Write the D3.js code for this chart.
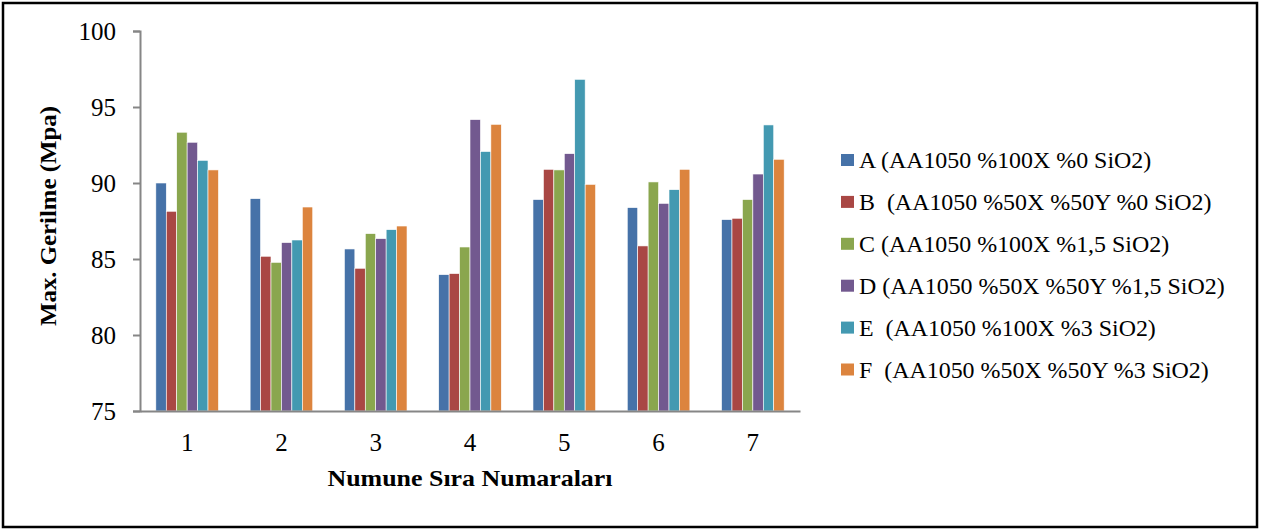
<!DOCTYPE html>
<html>
<head>
<meta charset="utf-8">
<script src="https://cdn.jsdelivr.net/npm/d3@7"></script>
<style>
  html, body { margin: 0; padding: 0; background: #fff; }
  svg { display: block; }
  svg text { font-family: "Liberation Serif", "Times New Roman", serif !important; fill: #000; }
</style>
</head>
<body>
<script>
// ---- data ----
const categories = ["1", "2", "3", "4", "5", "6", "7"];
const seriesNames = [
  "A (AA1050 %100X %0 SiO2)",
  "B  (AA1050 %50X %50Y %0 SiO2)",
  "C (AA1050 %100X %1,5 SiO2)",
  "D (AA1050 %50X %50Y %1,5 SiO2)",
  "E  (AA1050 %100X %3 SiO2)",
  "F  (AA1050 %50X %50Y %3 SiO2)"
];
const seriesA = [90.0, 88.97, 85.66, 83.97, 88.91, 88.38, 87.59];
const seriesB = [88.14, 85.18, 84.39, 84.04, 90.90, 85.86, 87.68];
const seriesC = [93.34, 84.78, 86.67, 85.79, 90.86, 90.07, 88.91];
const seriesD = [92.68, 86.08, 86.34, 94.17, 91.93, 88.66, 90.59];
const seriesE = [91.49, 86.25, 86.93, 92.07, 96.82, 89.56, 93.82];
const seriesF = [90.86, 88.42, 87.17, 93.86, 89.91, 90.90, 91.56];
const yTicks = [75, 80, 85, 90, 95, 100];
const colors = ["#4672A8", "#A94744", "#8AA64E", "#72598F", "#4399B1", "#DC843E"];
const yTitle = "Max. Gerilme (Mpa)";
const xTitle = "Numune Sıra Numaraları";

const allSeries = [seriesA, seriesB, seriesC, seriesD, seriesE, seriesF];

const W = 1264, H = 532;
const plot = { left: 140, right: 800, top: 31, bottom: 411 };
const serif = '"Liberation Serif", "Times New Roman", serif';

const svg = d3.select("body").append("svg").attr("width", W).attr("height", H);

// frame
svg.append("rect").attr("x", 3).attr("y", 3).attr("width", 1254).attr("height", 524)
  .attr("fill", "#fff").attr("stroke", "#000").attr("stroke-width", 2.5);

const x0 = d3.scaleBand().domain(categories).range([plot.left, plot.right])
  .paddingInner(0.336).paddingOuter(0.168);
const x1 = d3.scaleBand().domain(d3.range(seriesNames.length)).range([0, x0.bandwidth()]);
const y = d3.scaleLinear().domain([75, 100]).range([plot.bottom, plot.top]);

// bars
const groups = svg.append("g").selectAll("g").data(categories).join("g")
  .attr("transform", d => `translate(${x0(d)},0)`);
groups.selectAll("rect")
  .data((d, i) => allSeries.map((s, k) => ({ k, v: s[i] })))
  .join("rect")
  .attr("x", d => x1(d.k))
  .attr("width", x1.bandwidth())
  .attr("y", d => y(d.v))
  .attr("height", d => y(75) - y(d.v))
  .attr("fill", d => colors[d.k])
  .attr("stroke", "#fff").attr("stroke-width", 0.6);

// y axis
const yAxis = svg.append("g").attr("transform", `translate(${plot.left},0)`)
  .call(d3.axisLeft(y).tickValues(yTicks).tickSize(7).tickPadding(17).tickFormat(d3.format("d")));
yAxis.attr("font-family", serif);
yAxis.select(".domain").attr("stroke", "#868686").attr("stroke-width", 2);
yAxis.selectAll(".tick line").attr("stroke", "#868686").attr("stroke-width", 2);
yAxis.selectAll(".tick text").attr("font-size", 25).style("font-family", serif).attr("fill", "#000")
  .attr("dy", "0.34em");

// x axis
const xAxis = svg.append("g").attr("transform", `translate(0,${plot.bottom})`)
  .call(d3.axisBottom(x0).tickSize(0).tickPadding(22));
xAxis.attr("font-family", serif);
xAxis.select(".domain").attr("stroke", "#868686").attr("stroke-width", 2);
xAxis.selectAll(".tick text").attr("font-size", 25).style("font-family", serif).attr("fill", "#000");

// titles
svg.append("text").attr("transform", "translate(470,486) scale(1.08,1)").attr("text-anchor", "middle")
  .attr("font-size", 24).attr("font-weight", "bold").style("font-family", serif).text(xTitle);
svg.append("text").attr("transform", "translate(56,216) rotate(-90) scale(1.08,1)").attr("text-anchor", "middle")
  .attr("font-size", 23).attr("font-weight", "bold").style("font-family", serif).text(yTitle);

// legend
const legend = svg.append("g");
seriesNames.forEach((name, i) => {
  const cy = 160 + i * 41.9;
  legend.append("rect").attr("x", 841).attr("y", cy - 6).attr("width", 13).attr("height", 12)
    .attr("fill", colors[i]);
  legend.append("text").attr("transform", `translate(859,${cy + 8}) scale(1.04,1)`).attr("font-size", 23)
    .style("font-family", serif).style("white-space", "pre").text(name);
});
</script>
</body>
</html>
